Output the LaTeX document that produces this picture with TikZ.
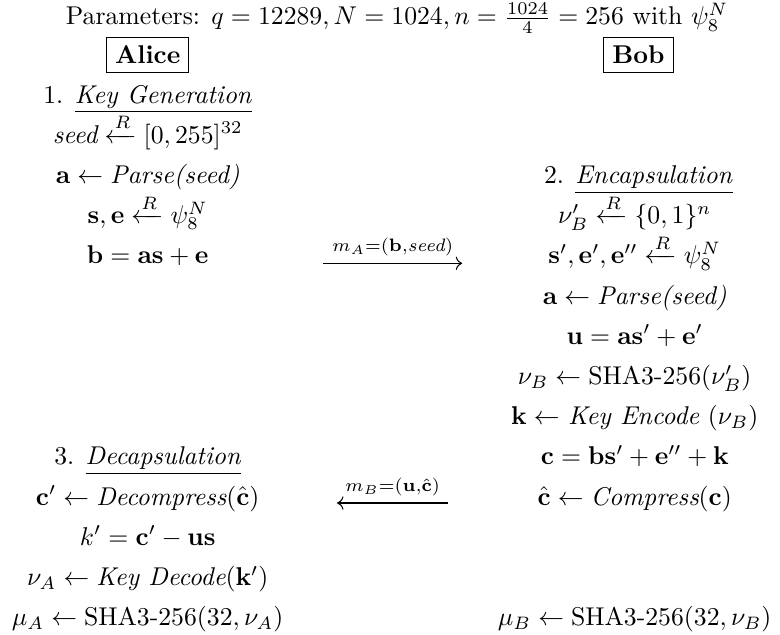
\documentclass[tikz,border=0pt]{standalone}
\usepackage{amsmath,amssymb}
\usepackage{tikz}
\usetikzlibrary{arrows.meta}

\begin{document}
\begin{tikzpicture}[every node/.style={font=\normalsize},
  txt/.style={anchor=base,inner sep=0pt},
  party/.style={draw,font=\bfseries,inner sep=3.33pt},
  lbl/.style={midway,above,inner sep=2.5pt},
  msg/.style={-{Computer Modern Rightarrow},line width=0.4pt}]
\useasboundingbox (0,0) rectangle (10.667,8.671);
\node[txt] (P) at (5.43,8.329) {Parameters: $q=12289, N=1024, n=\frac{1024}{4}=256$ with $\psi_8^N$};
\node[party] (Alice) at (2.02,7.918) {Alice};
\node[party] (Bob)   at (8.73,7.918) {Bob};
% Alice side
\node[txt] (A1)  at (2.02,7.262) {1. \underline{\textit{Key Generation}}};
\node[txt] (A2)  at (2.02,6.712) {$\textit{seed} \xleftarrow{R} [0,255]^{32}$};
\node[txt] (A3)  at (2.02,6.162) {$\mathbf{a} \leftarrow \textit{Parse(seed)}$};
\node[txt] (A4)  at (2.02,5.613) {$\mathbf{s},\mathbf{e} \xleftarrow{R} \psi_8^N$};
\node[txt] (A5)  at (2.02,5.063) {$\mathbf{b}=\mathbf{a}\mathbf{s}+\mathbf{e}$};
\node[txt] (A6)  at (2.02,2.314) {3. \underline{\textit{Decapsulation}}};
\node[txt] (A7)  at (2.02,1.764) {$\mathbf{c}' \leftarrow \textit{Decompress}(\hat{\mathbf{c}})$};
\node[txt] (A8)  at (2.02,1.214) {$k'=\mathbf{c}'-\mathbf{us}$};
\node[txt] (A9)  at (2.02,0.665) {$\nu_A \leftarrow \textit{Key Decode}(\mathbf{k}')$};
\node[txt] (A10) at (2.02,0.115) {$\mu_A \leftarrow \text{SHA3-256}(32,\nu_A)$};
% Bob side
\node[txt] (B1)  at (8.73,6.162) {2. \underline{\textit{Encapsulation}}};
\node[txt] (B2)  at (8.68,5.613) {$\nu'_B \xleftarrow{R} \{0,1\}^n$};
\node[txt] (B3)  at (8.68,5.063) {$\mathbf{s}',\mathbf{e}',\mathbf{e}'' \xleftarrow{R} \psi_8^N$};
\node[txt] (B4)  at (8.68,4.513) {$\mathbf{a} \leftarrow \textit{Parse(seed)}$};
\node[txt] (B5)  at (8.68,3.963) {$\mathbf{u}=\mathbf{a}\mathbf{s}'+\mathbf{e}'$};
\node[txt] (B6)  at (8.68,3.414) {$\nu_B \leftarrow \text{SHA3-256}(\nu'_B)$};
\node[txt] (B7)  at (8.68,2.864) {$\mathbf{k} \leftarrow$ \textit{Key Encode} $(\nu_B)$};
\node[txt] (B8)  at (8.68,2.314) {$\mathbf{c}=\mathbf{b}\mathbf{s}'+\mathbf{e}''+\mathbf{k}$};
\node[txt] (B9)  at (8.68,1.764) {$\hat{\mathbf{c}} \leftarrow \textit{Compress}(\mathbf{c})$};
\node[txt] (B10) at (8.68,0.115) {$\mu_B \leftarrow \text{SHA3-256}(32,\nu_B)$};
% messages
\coordinate (mA1) at (4.42,5.07);
\coordinate (mA2) at (6.32,5.07);
\coordinate (mB1) at (6.13,1.792);
\coordinate (mB2) at (4.61,1.792);
\draw[msg] (mA1) -- (mA2) node[lbl] {$\scriptstyle m_A=(\mathbf{b},\textit{seed})$};
\draw[msg] (mB1) -- (mB2) node[lbl] {$\scriptstyle m_B=(\mathbf{u},\hat{\mathbf{c}})$};
\end{tikzpicture}
\end{document}
